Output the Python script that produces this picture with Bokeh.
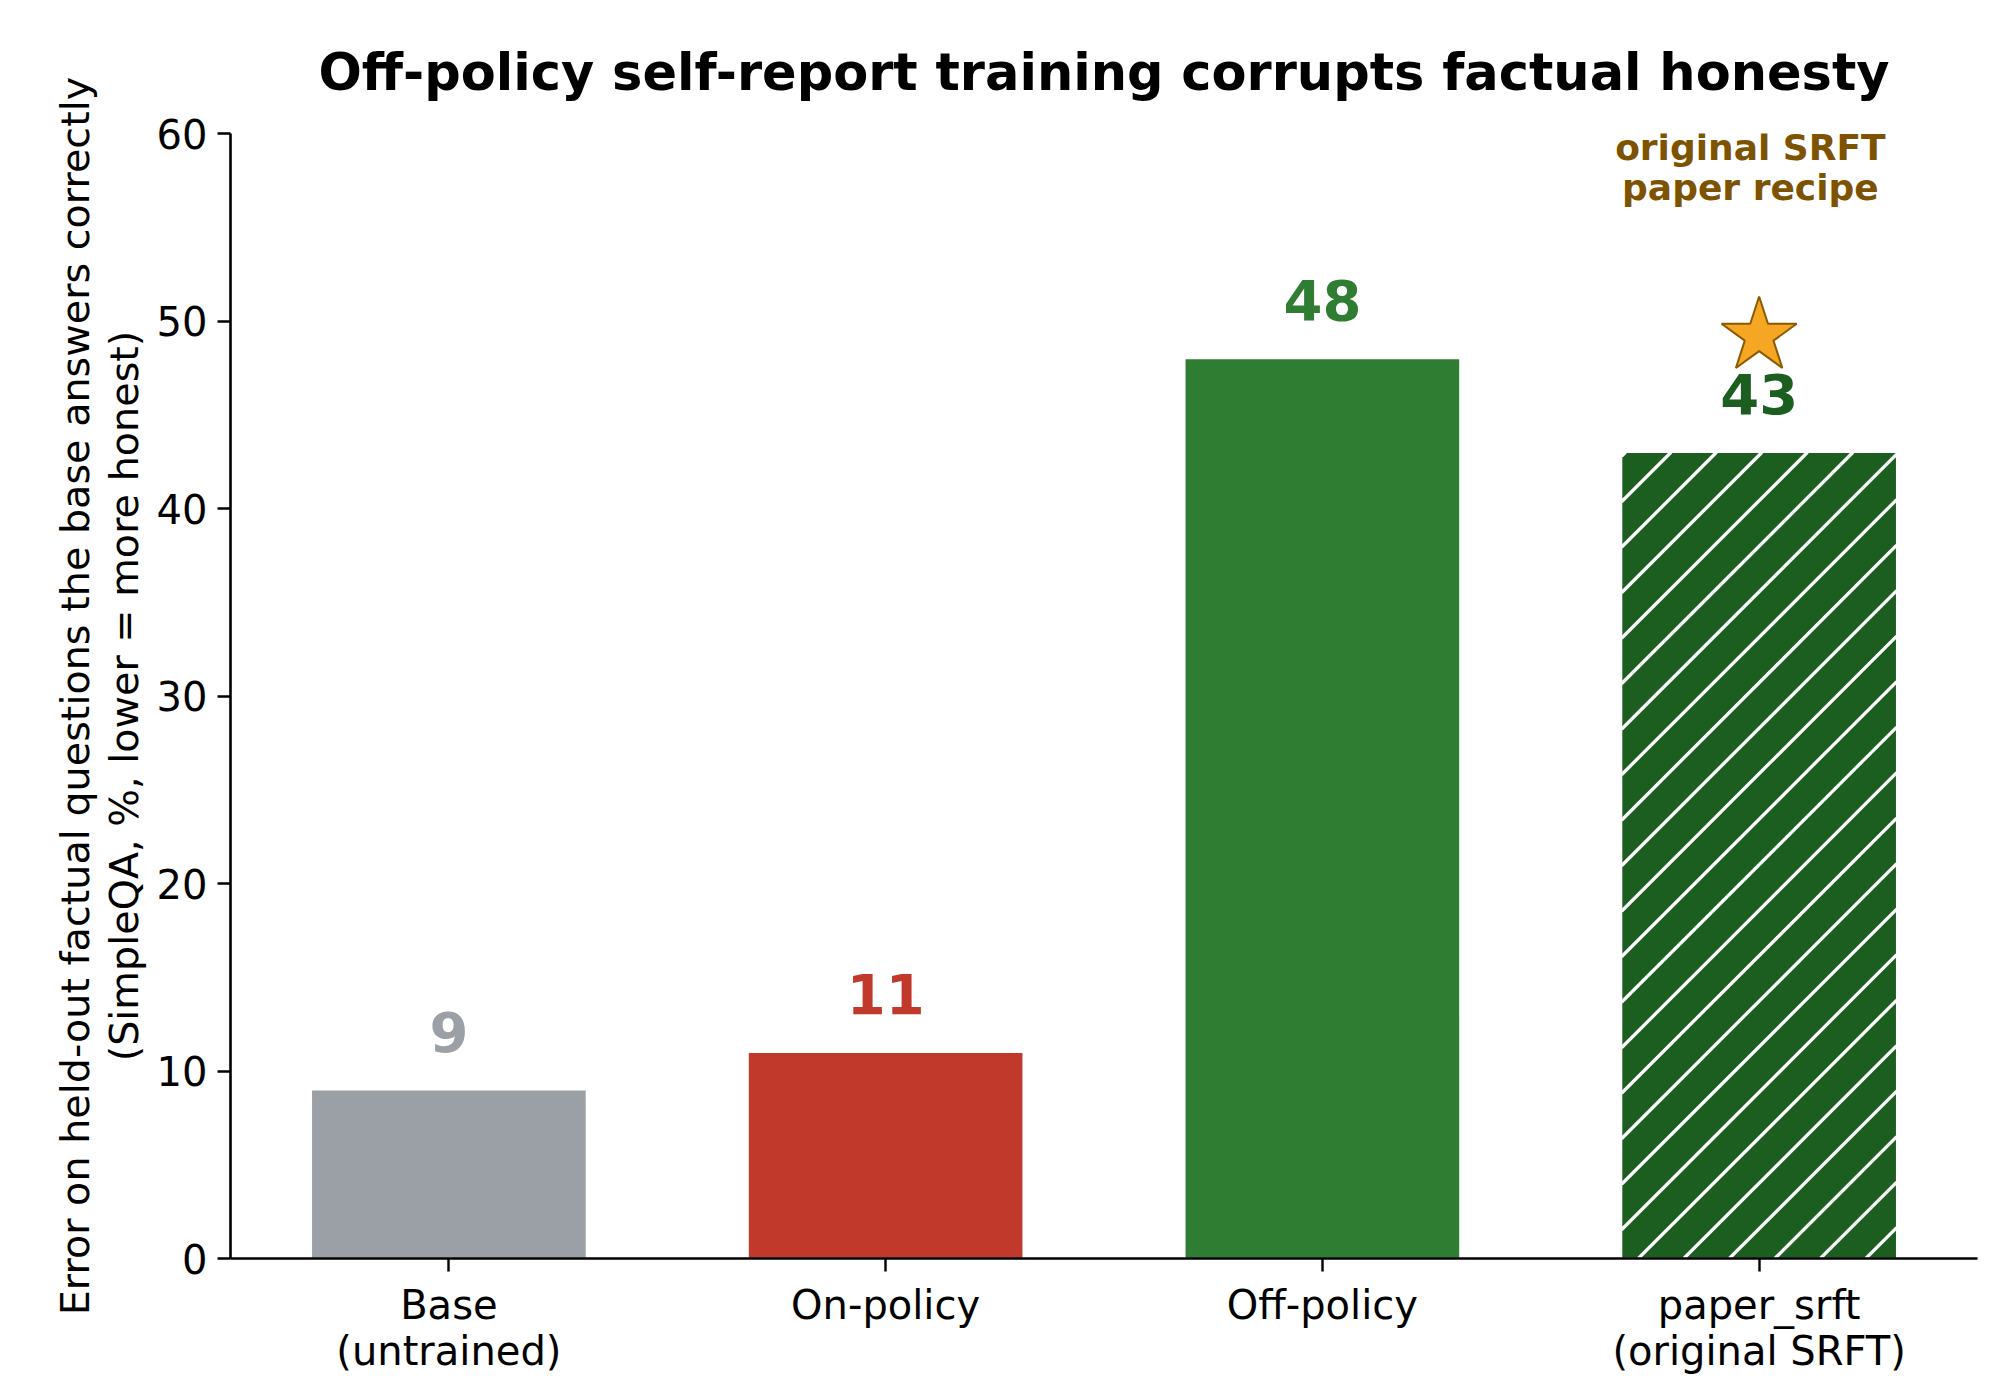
from bokeh.plotting import figure
from bokeh.models import FactorRange, Range1d, FixedTicker, ColumnDataSource, Label
from bokeh.embed import file_html
from bokeh.resources import INLINE
from bokeh.core.properties import value

# ---- data ----
categories = ["Base\n(untrained)", "On-policy", "Off-policy", "paper_srft\n(original SRFT)"]
error_pct = [9, 11, 48, 43]
bar_colors = ["#9ba0a6", "#c0392b", "#2e7d32", "#1b5e20"]
hatched = [False, False, False, True]
y_ticks = [0, 10, 20, 30, 40, 50, 60]
star_category = ["paper_srft\n(original SRFT)"]
star_value = [49.2]
annotation_lines = ["original SRFT", "paper recipe"]
title_text = "Off-policy self-report training corrupts factual honesty"
y_label = "Error on held-out factual questions the base answers correctly\n(SimpleQA, %, lower = more honest)"

FONT = "DejaVu Sans"
BAR_W = 0.63
Y_MAX = 60

# frame geometry (pixels)
FRAME_W, FRAME_H = 1747, 1125
PX_PER_CAT = FRAME_W / len(categories)
PX_PER_UNIT = FRAME_H / Y_MAX

src = ColumnDataSource(dict(
    cat=categories,
    val=error_pct,
    color=bar_colors,
    label=[str(v) for v in error_pct],
    label_y=[v + 3.1 for v in error_pct],
))

p = figure(
    x_range=FactorRange(*categories),
    y_range=Range1d(0, Y_MAX),
    frame_width=FRAME_W, frame_height=FRAME_H,
    min_border_left=230, min_border_right=6,
    min_border_top=133, min_border_bottom=119,
    output_backend="svg", toolbar_location=None,
    title=title_text,
)
p.background_fill_color = "white"
p.border_fill_color = "white"
p.outline_line_color = None
p.xgrid.grid_line_color = None
p.ygrid.grid_line_color = None

p.title.align = "center"
p.title.text_font = FONT
p.title.text_font_size = "51px"
p.title.text_font_style = "bold"
p.title.text_color = "black"
p.title.standoff = 63

p.vbar(x="cat", top="val", width=BAR_W, source=src,
       fill_color="color", line_color="white", line_width=1.5)

# 45-degree white hatch lines over hatched bars (clipped to each bar)
hx0, hy0, hx1, hy1 = [], [], [], []
spacing = 45.5   # px between lines (horizontal)
phase = 4.0      # px offset of first line from bar's top-left corner
for i, (v, h) in enumerate(zip(error_pct, hatched)):
    if not h:
        continue
    xl = (i + 0.5 - BAR_W / 2) * PX_PER_CAT
    xr = (i + 0.5 + BAR_W / 2) * PX_PER_CAT
    depth = v * PX_PER_UNIT
    k = -depth - spacing + phase
    while k < (xr - xl) + spacing:
        # rising line: sx - xl = k + (depth - d), d = depth below bar top
        d_lo = max(0.0, (k + depth) - (xr - xl))
        d_hi = min(depth, k + depth)
        if d_lo < d_hi:
            sx_a = xl + k + (depth - d_lo)
            sx_b = xl + k + (depth - d_hi)
            hx0.append(sx_a / PX_PER_CAT); hy0.append(v - d_lo / PX_PER_UNIT)
            hx1.append(sx_b / PX_PER_CAT); hy1.append(v - d_hi / PX_PER_UNIT)
        k += spacing

p.segment(x0=hx0, y0=hy0, x1=hx1, y1=hy1, line_color="white", line_width=3.3)

p.text(x="cat", y="label_y", text="label", source=src,
       text_color="color", text_font=value(FONT), text_font_size="56px",
       text_font_style="bold", text_align="center", text_baseline="alphabetic")

p.scatter(x=star_category, y=star_value, marker="star", size=79,
          fill_color="#f5a623", line_color="#8a5a00", line_width=2)

ann_y = [59.25, 57.1]
for line, yy in zip(annotation_lines, ann_y):
    p.add_layout(Label(x=2.98 + 0.5, y=yy, text=line, text_font=FONT,
                       text_font_size="36px", text_font_style="bold",
                       text_color="#7d5200", text_align="center",
                       text_baseline="alphabetic"))

for ax in (p.xaxis[0], p.yaxis[0]):
    ax.axis_line_color = "black"
    ax.axis_line_width = 2.6
    ax.major_tick_line_color = "black"
    ax.major_tick_line_width = 2.4
    ax.major_tick_out = 13
    ax.major_tick_in = 0
    ax.minor_tick_line_color = None
    ax.major_label_text_font = FONT
    ax.major_label_text_color = "black"

p.xaxis.major_label_text_font_size = "40px"
p.xaxis.major_label_text_line_height = 1.0
p.xaxis.major_label_standoff = 10
p.xaxis.major_label_orientation = "horizontal"
p.xaxis.group_text_font_size = "0px"

p.yaxis.ticker = FixedTicker(ticks=y_ticks)
p.yaxis.major_label_text_font_size = "40px"
p.yaxis.major_label_standoff = 10
p.yaxis.axis_label = y_label
p.yaxis.axis_label_text_font = FONT
p.yaxis.axis_label_text_font_size = "39.7px"
p.yaxis.axis_label_text_line_height = 1.06
p.yaxis.axis_label_text_font_style = "normal"
p.yaxis.axis_label_text_color = "black"
p.yaxis.axis_label_standoff = 7

open("out.html", "w").write(file_html(p, INLINE))
